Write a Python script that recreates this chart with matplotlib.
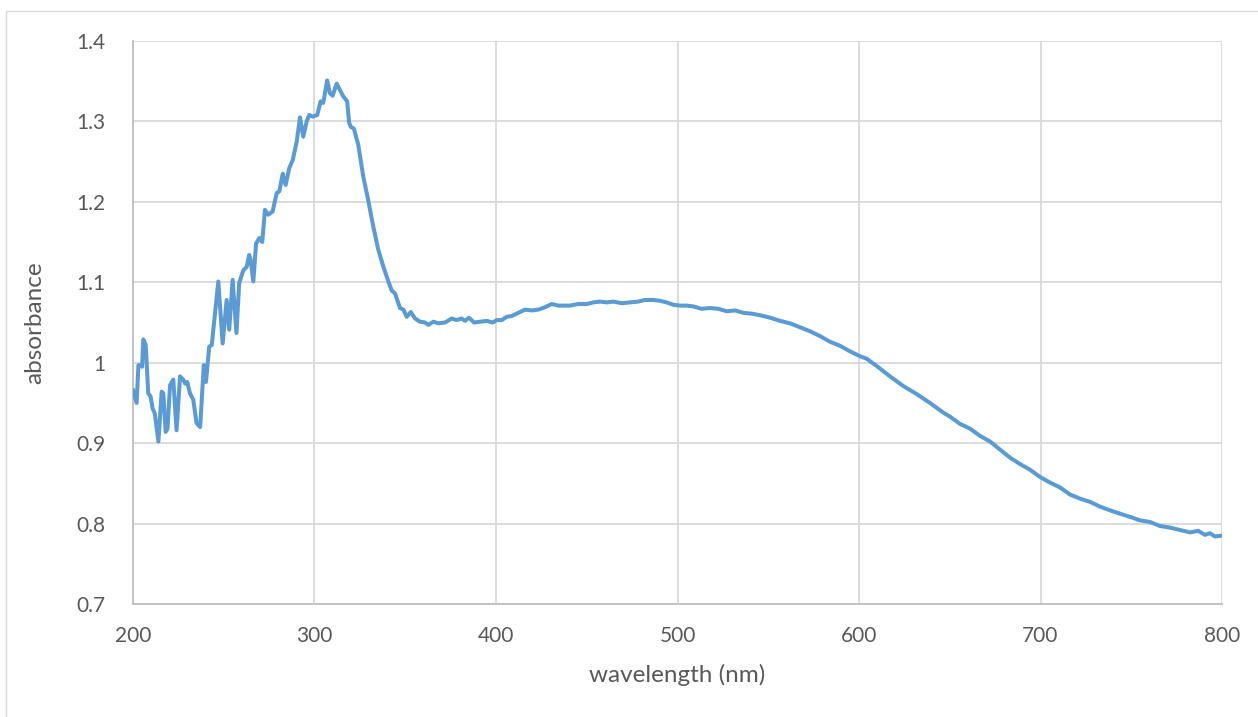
import matplotlib.pyplot as plt
from matplotlib.patches import Rectangle

# values
wavelength = [200, 202, 203, 205, 205.7, 207, 208.4, 209.7, 210.8, 212, 214, 215.8, 216.7,
              218, 219, 220.4, 222.2, 224, 225.9, 227.7, 228.7, 229.9, 231.4, 233.2, 235,
              237, 239, 240.2, 242, 243.4, 247, 249.4, 251.6, 253, 254.9, 257, 258.5, 260.8,
              262.6, 264, 264.8, 266.3, 267.8, 269.6, 271.2, 272.7, 274.5, 276.9, 279.2,
              280.6, 282.5, 284.1, 286.1, 288, 290.2, 292, 293.8, 295.7, 297.1, 299, 301.5,
              303.4, 304.8, 307, 308.5, 310, 312.2, 314, 315.9, 318, 319.1, 320.1, 321.7,
              324.1, 326.9, 329.6, 332.4, 335.2, 338, 340.7, 342.5, 344.4, 347.1, 349,
              350.8, 353, 355.4, 358.1, 360.9, 362.7, 365.5, 368.2, 371.9, 375.6, 378.3,
              381.1, 382.9, 385.1, 387.9, 391.2, 394.9, 398.2, 400.4, 403.1, 405.9, 408.6,
              411.4, 416, 419.7, 423.3, 427, 430.7, 434.3, 440.8, 445.3, 450, 453.6, 457.3,
              461, 464.6, 469.3, 473.8, 478.4, 482.1, 486.7, 490.4, 494, 497.7, 501.4, 505,
              508.7, 513.3, 517.9, 522.5, 527.1, 531.7, 536.3, 540.9, 545.5, 551, 556.5,
              562, 567.6, 573.1, 578.6, 584.1, 589.6, 595.1, 600.6, 604.2, 609.7, 617.1,
              624.4, 631.8, 639.1, 646.4, 650.1, 655.6, 661.2, 666.7, 672.2, 677.7, 683.2,
              688.7, 694.2, 699.7, 705.2, 710.7, 716.3, 721.8, 727.3, 732.8, 740.1, 745.6,
              751.1, 754.8, 760.3, 765.8, 771.3, 776.9, 782.4, 786.9, 790.6, 793.4, 796.1,
              800]
absorbance = [0.966, 0.950, 0.997, 0.995, 1.029, 1.022, 0.962, 0.958, 0.943, 0.937, 0.902,
              0.964, 0.962, 0.914, 0.918, 0.972, 0.979, 0.916, 0.983, 0.979, 0.974, 0.976,
              0.962, 0.954, 0.925, 0.920, 0.997, 0.976, 1.020, 1.022, 1.101, 1.024, 1.078,
              1.041, 1.103, 1.037, 1.099, 1.115, 1.119, 1.134, 1.128, 1.101, 1.148, 1.155,
              1.150, 1.190, 1.184, 1.188, 1.211, 1.213, 1.235, 1.221, 1.242, 1.252, 1.275,
              1.305, 1.281, 1.300, 1.308, 1.306, 1.308, 1.325, 1.323, 1.351, 1.335, 1.332,
              1.347, 1.339, 1.331, 1.325, 1.298, 1.293, 1.291, 1.271, 1.231, 1.202, 1.169,
              1.140, 1.119, 1.101, 1.090, 1.086, 1.068, 1.066, 1.057, 1.063, 1.055, 1.051,
              1.050, 1.047, 1.051, 1.049, 1.050, 1.055, 1.053, 1.055, 1.052, 1.056, 1.050,
              1.051, 1.052, 1.050, 1.053, 1.053, 1.057, 1.058, 1.061, 1.066, 1.065, 1.066,
              1.069, 1.073, 1.071, 1.071, 1.073, 1.073, 1.075, 1.076, 1.075, 1.076, 1.074,
              1.075, 1.076, 1.078, 1.078, 1.077, 1.075, 1.072, 1.071, 1.071, 1.070, 1.067,
              1.068, 1.067, 1.064, 1.065, 1.062, 1.061, 1.059, 1.056, 1.052, 1.049, 1.044,
              1.039, 1.033, 1.026, 1.021, 1.014, 1.008, 1.005, 0.996, 0.983, 0.971, 0.961,
              0.950, 0.938, 0.933, 0.924, 0.918, 0.909, 0.902, 0.892, 0.882, 0.874, 0.867,
              0.858, 0.851, 0.845, 0.836, 0.831, 0.827, 0.821, 0.815, 0.811, 0.807, 0.804,
              0.802, 0.797, 0.795, 0.792, 0.789, 0.791, 0.786, 0.788, 0.784, 0.785]

plt.rcParams['font.family'] = ['Lato', 'DejaVu Sans']

fig = plt.figure(figsize=(12.58, 7.17), dpi=100)
ax = fig.add_axes([133/1258, 113/717, (1222-133)/1258, (604-41)/717])

# outer chart border
fig.patches.append(Rectangle((6/1258, -0.01), 1.0, (717-11)/717 + 0.01,
                             transform=fig.transFigure, fill=False,
                             edgecolor="#d9d9d9", linewidth=1))

ax.plot(wavelength, absorbance, color="#5b9bd5", linewidth=2.9, zorder=3)

ax.set_xlim(200, 800)
ax.set_ylim(0.7, 1.4)
ax.set_xticks([200, 300, 400, 500, 600, 700, 800])
ax.set_yticks([0.7, 0.8, 0.9, 1.0, 1.1, 1.2, 1.3, 1.4])
ax.set_yticklabels(["0.7", "0.8", "0.9", "1", "1.1", "1.2", "1.3", "1.4"])
ax.grid(True, color="#d9d9d9", linewidth=1.3)
ax.set_axisbelow(True)
ax.tick_params(length=0, labelsize=15, colors="#595959")
ax.tick_params(axis='x', pad=16)
ax.tick_params(axis='y', pad=20)
for s in ["top", "right"]:
    ax.spines[s].set_visible(False)
ax.spines["left"].set_color("#bfbfbf")
ax.spines["bottom"].set_color("#bfbfbf")
ax.spines["left"].set_linewidth(1.3)
ax.spines["bottom"].set_linewidth(1.3)

ax.set_xlabel("wavelength (nm)", fontsize=17.5, color="#595959", labelpad=13)
ax.set_ylabel("absorbance", fontsize=17.5, color="#595959", labelpad=22)

fig.savefig("out.png", dpi=100)
